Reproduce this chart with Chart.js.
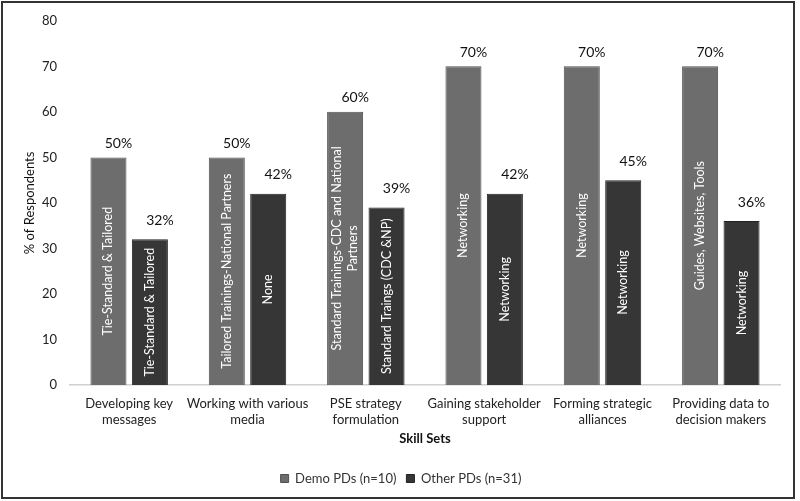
<!DOCTYPE html>
<html>
<head>
<meta charset="utf-8">
<script src="https://cdn.jsdelivr.net/npm/chart.js@4/dist/chart.umd.min.js"></script>
<style>
html,body{margin:0;padding:0;background:#fff;}
#wrap{width:800px;height:501px;position:relative;}
</style>
</head>
<body>
<div id="wrap"><canvas id="c" width="800" height="501"></canvas></div>
<script>
const categories = [
  ["Developing key", "messages"],
  ["Working with various", "media"],
  ["PSE strategy", "formulation"],
  ["Gaining stakeholder", "support"],
  ["Forming strategic", "alliances"],
  ["Providing data to", "decision makers"]
];
const demoValues = [50, 50, 60, 70, 70, 70];
const otherValues = [32, 42, 39, 42, 45, 36];
const demoInner = [
  ["Tie-Standard & Tailored"],
  ["Tailored Trainings-National Partners"],
  ["Standard Trainings-CDC and National", "Partners"],
  ["Networking"],
  ["Networking"],
  ["Guides, Websites, Tools"]
];
const otherInner = [
  ["Tie-Standard & Tailored"],
  ["None"],
  ["Standard Traings (CDC &NP)"],
  ["Networking"],
  ["Networking"],
  ["Networking"]
];
const yTicks = [0, 10, 20, 30, 40, 50, 60, 70, 80];
const seriesNames = ["Demo PDs (n=10)", "Other PDs (n=31)"];

const FONT = "Lato, 'Open Sans', sans-serif";

const labelPlugin = {
  id: 'labels',
  afterDatasetsDraw(chart) {
    const ctx = chart.ctx;
    const inner = [demoInner, otherInner];
    const offs = [14, 19];
    chart.data.datasets.forEach((ds, di) => {
      const meta = chart.getDatasetMeta(di);
      meta.data.forEach((bar, i) => {
        const v = ds.data[i];
        ctx.save();
        ctx.fillStyle = '#111';
        ctx.font = '14px ' + FONT;
        ctx.textAlign = 'center';
        ctx.textBaseline = 'middle';
        ctx.fillText(v + '%', bar.x + 10, bar.y - offs[di]);
        ctx.restore();
        const lines = inner[di][i];
        const cy = (bar.y + bar.base) / 2;
        ctx.save();
        ctx.translate(bar.x, cy);
        ctx.rotate(-Math.PI / 2);
        ctx.fillStyle = '#fff';
        ctx.font = '12.5px ' + FONT;
        ctx.textAlign = 'center';
        ctx.textBaseline = 'middle';
        const lh = 16;
        lines.forEach((ln, k) => {
          ctx.fillText(ln, 0, (k - (lines.length - 1) / 2) * lh);
        });
        ctx.restore();
      });
    });
  },
  afterDraw(chart) {
    const ctx = chart.ctx;
    ctx.save();
    ctx.strokeStyle = '#333';
    ctx.lineWidth = 2;
    ctx.strokeRect(2, 2, 792, 496);
    ctx.restore();
  }
};

new Chart(document.getElementById('c'), {
  type: 'bar',
  data: {
    labels: categories,
    datasets: [
      {
        label: seriesNames[0],
        data: demoValues,
        backgroundColor: '#6d6d6d',
        borderColor: '#505050',
        borderWidth: 1,
        categoryPercentage: 0.7,
        barPercentage: 0.87
      },
      {
        label: seriesNames[1],
        data: otherValues,
        backgroundColor: '#363636',
        borderColor: '#222',
        borderWidth: 1,
        categoryPercentage: 0.7,
        barPercentage: 0.87
      }
    ]
  },
  options: {
    responsive: false,
    animation: false,
    layout: { padding: { left: 22, right: 20, top: 18, bottom: 6 } },
    plugins: {
      legend: {
        position: 'bottom',
        labels: {
          boxWidth: 8,
          boxHeight: 8,
          color: '#333',
          font: { family: FONT, size: 13 },
          padding: 10
        }
      },
      tooltip: { enabled: false }
    },
    scales: {
      x: {
        grid: { display: false, drawTicks: false },
        border: { display: true, color: '#d0d0d0', width: 1.5 },
        ticks: { color: '#222', font: { family: FONT, size: 13 }, padding: 11, maxRotation: 0, autoSkip: false },
        title: {
          display: true,
          text: 'Skill Sets',
          color: '#111',
          font: { family: FONT, size: 13, weight: 'bold' },
          padding: { top: 0, bottom: 15 }
        },
        afterFit(s) { s.height = 77; }
      },
      y: {
        min: 0,
        max: 80,
        grid: { display: false, drawTicks: false },
        border: { display: false },
        afterBuildTicks(s) { s.ticks = yTicks.map(v => ({ value: v })); },
        ticks: { color: '#222', font: { family: FONT, size: 13 }, padding: 13 },
        title: {
          display: true,
          text: '% of Respondents',
          color: '#111',
          font: { family: FONT, size: 13 },
          padding: 0
        },
        afterFit(s) { s.width = 48; }
      }
    }
  },
  plugins: [labelPlugin]
});
</script>
</body>
</html>
